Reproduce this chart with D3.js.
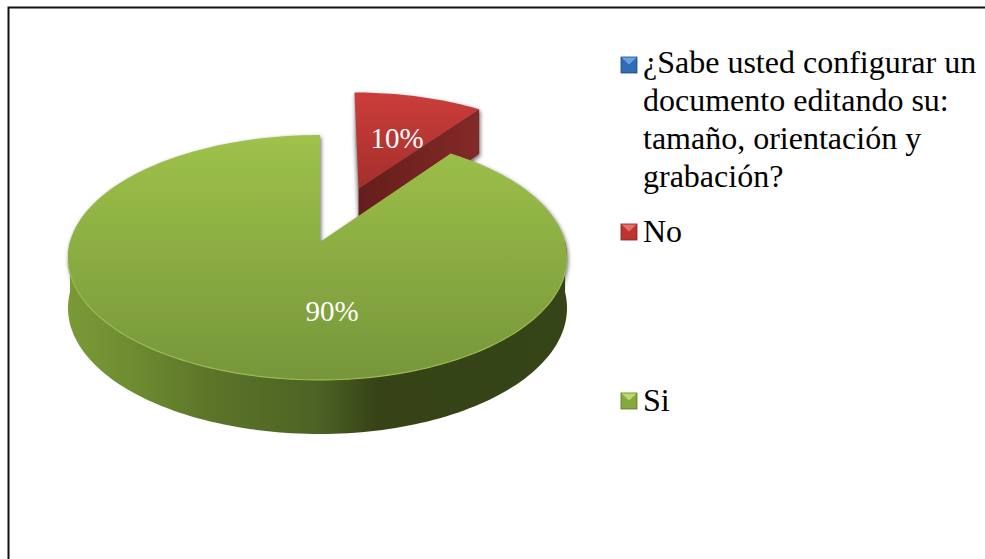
<!DOCTYPE html>
<html>
<head>
<meta charset="utf-8">
<script src="https://cdn.jsdelivr.net/npm/d3@7"></script>
<style>
    html, body { margin: 0; padding: 0; background: #fff; overflow: hidden; }
    text { font-family: "Liberation Serif", serif; }
</style>
</head>
<body>
<div id="chart"></div>
<script>
let categories = ["¿Sabe usted configurar un documento editando su: tamaño, orientación y grabación?", "No", "Si"];
let values = [0, 10, 90];
let labels = ["", "10%", "90%"];
let legendLines = [
    ["¿Sabe usted configurar un", "documento editando su:", "tamaño, orientación y", "grabación?"],
    ["No"],
    ["Si"]
];

var width = 985;
var height = 559;

let svg = d3.select('#chart')
    .append('svg')
        .attr('width', width)
        .attr('height', height);

let defs = svg.append('defs');

function addGradient(id, x2, y2, stops) {
    defs.append('linearGradient')
        .attr('id', id)
        .attr('x1', 0).attr('y1', 0)
        .attr('x2', x2).attr('y2', y2)
      .selectAll('stop')
        .data(stops)
        .enter().append('stop')
        .attr('offset', function(d) { return d[0]; })
        .attr('stop-color', function(d) { return d[1]; });
}

addGradient('greenTop', 0, 1, [["0%", "#9ec24a"], ["100%", "#76963a"]]);
addGradient('greenSide', 1, 0, [["0%", "#7a9a38"], ["12%", "#6f8d31"], ["30%", "#5a7328"], ["50%", "#4d6324"], ["62%", "#354316"], ["100%", "#364517"]]);
addGradient('redTop', 0, 1, [["0%", "#cb3d3a"], ["100%", "#a52f2c"]]);
addGradient('redSide', 1, 0, [["0%", "#651d1b"], ["100%", "#832a27"]]);
defs.append('filter').attr('id', 'soft')
    .attr('x', '-5%').attr('y', '-5%').attr('width', '110%').attr('height', '110%')
    .append('feGaussianBlur').attr('stdDeviation', 2);

// perspective of the disc, apex of the pie sits above the middle of the ellipse
let apex = { x: 320, y: 242 };
let persp = -0.1265;
let xScale = d3.scaleLinear().domain([-1.008, 0, 1.008]).range([68, apex.x, 567]);
let yScale = d3.scaleLinear().domain([-1, 1]).range([apex.y - 120.5, apex.y + 120.5]);

function project(u, v, drop) {
    let w = 1 + persp * v;
    let depth = drop ? 50 + 4 * v : 0;
    return [xScale(u / w), yScale(v / w) + depth];
}

function onDisc(angle, r, off) {
    return [Math.sin(angle) * r + Math.sin(off.mid) * off.d, -Math.cos(angle) * r - Math.cos(off.mid) * off.d];
}

function arcPoints(a0, a1, off, drop) {
    let n = Math.max(2, Math.ceil(Math.abs(a1 - a0) * 40));
    return d3.range(n + 1).map(function(i) {
        let p = onDisc(a0 + (a1 - a0) * i / n, 1, off);
        return project(p[0], p[1], drop);
    });
}

let pie = d3.pie().sort(null).value(function(d) { return d; })(values);
let line = d3.line();

let noSlice = pie[1];
let siSlice = pie[2];
let noOff = { mid: 0.34, d: 0.5 };
let siOff = { mid: 0, d: 0 };

function centerOf(off, drop) {
    let p = onDisc(0, 0, off);
    return project(p[0], p[1], drop);
}

function topFace(s, off) {
    return line([centerOf(off, false)].concat(arcPoints(s.startAngle, s.endAngle, off, false))) + 'Z';
}
function bottomFace(s, off) {
    return line([centerOf(off, true)].concat(arcPoints(s.startAngle, s.endAngle, off, true))) + 'Z';
}
// outline of the top and bottom faces with the part between them, used for the shadow
function solidFaces(s, off) {
    let rim = arcPoints(s.startAngle, s.endAngle, off, false);
    let rimLow = arcPoints(s.startAngle, s.endAngle, off, true);
    let out = topFace(s, off) + bottomFace(s, off);
    out += line(rim.concat(rimLow.slice().reverse())) + 'Z';
    return out;
}

// frame
svg.append('path')
    .attr('d', 'M8.5,' + height + 'V7.5H' + width)
    .attr('fill', 'none')
    .attr('stroke', '#111')
    .attr('stroke-width', 2);

// shadows
let shadows = svg.append('g')
    .attr('filter', 'url(#soft)')
    .attr('transform', 'translate(1,2)');
[[noSlice, noOff], [siSlice, siOff]].forEach(function(d) {
    shadows.append('path')
        .attr('d', solidFaces(d[0], d[1]))
        .attr('fill', '#666')
        .attr('fill-rule', 'nonzero');
});

// red slice, the cut wall towards the viewer runs from the centre to the right corner
let noCorner = onDisc(noSlice.endAngle, 1, noOff);
svg.append('path')
    .attr('d', line([
        centerOf(noOff, false),
        project(noCorner[0], noCorner[1], false),
        project(noCorner[0], noCorner[1], true),
        centerOf(noOff, true)
    ]) + 'Z')
    .attr('fill', 'url(#redSide)');
svg.append('path')
    .attr('d', topFace(noSlice, noOff))
    .attr('fill', 'url(#redTop)');

// green wall, only the front half of the rim is visible
let wallTop = arcPoints(Math.PI / 2, Math.PI * 1.5, siOff, false);
let wallLow = arcPoints(Math.PI / 2, Math.PI * 1.5, siOff, true);
svg.append('path')
    .attr('d', line(wallTop.concat(wallLow.slice().reverse())) + 'Z')
    .attr('fill', 'url(#greenSide)');
svg.append('path')
    .attr('d', topFace(siSlice, siOff))
    .attr('fill', 'url(#greenTop)');
// light edge along the front of the disc
svg.append('path')
    .attr('d', line(arcPoints(Math.PI * 0.55, Math.PI * 1.45, siOff, false)))
    .attr('fill', 'none')
    .attr('stroke', '#9cbb52')
    .attr('stroke-width', 1.2);

// value labels
let labelPos = [null, [397, 148], [332, 321]];
svg.selectAll('.value')
    .data(labels)
    .enter().append('text')
    .filter(function(d) { return d !== ""; })
    .attr('class', 'value')
    .attr('x', function(d) { return labelPos[labels.indexOf(d)][0]; })
    .attr('y', function(d) { return labelPos[labels.indexOf(d)][1]; })
    .attr('text-anchor', 'middle')
    .attr('font-size', 29)
    .attr('fill', '#fff')
    .text(function(d) { return d; });

// legend
let legendColors = [
    ["#2f6cb4", "#6aa2e0", "#1d4a80"],
    ["#bd3531", "#e4706c", "#7d1f1d"],
    ["#86a83c", "#bcd970", "#5a7424"]
];
let legendY = [65, 232, 401];
let legendTextY = [73, 242, 411];
let legend = svg.selectAll('.legend')
    .data(categories)
    .enter().append('g')
    .attr('class', 'legend');

legend.append('rect')
    .attr('x', 621).attr('width', 16)
    .attr('y', function(d, i) { return legendY[i] - 8; }).attr('height', 16)
    .attr('fill', function(d, i) { return legendColors[i][0]; })
    .attr('stroke', function(d, i) { return legendColors[i][2]; })
    .attr('stroke-width', 0.8);
legend.append('path')
    .attr('d', function(d, i) {
        return 'M621.5,' + (legendY[i] - 7.5) + 'h15l-7.5,7Z';
    })
    .attr('fill', function(d, i) { return legendColors[i][1]; });
legend.append('text')
    .attr('font-size', 32)
    .attr('fill', '#000')
    .each(function(d, i) {
        d3.select(this).selectAll('tspan')
            .data(legendLines[i])
            .enter().append('tspan')
            .attr('x', 643)
            .attr('y', function(l, j) { return legendTextY[i] + j * 38; })
            .text(function(l) { return l; });
    });
</script>
</body>
</html>
